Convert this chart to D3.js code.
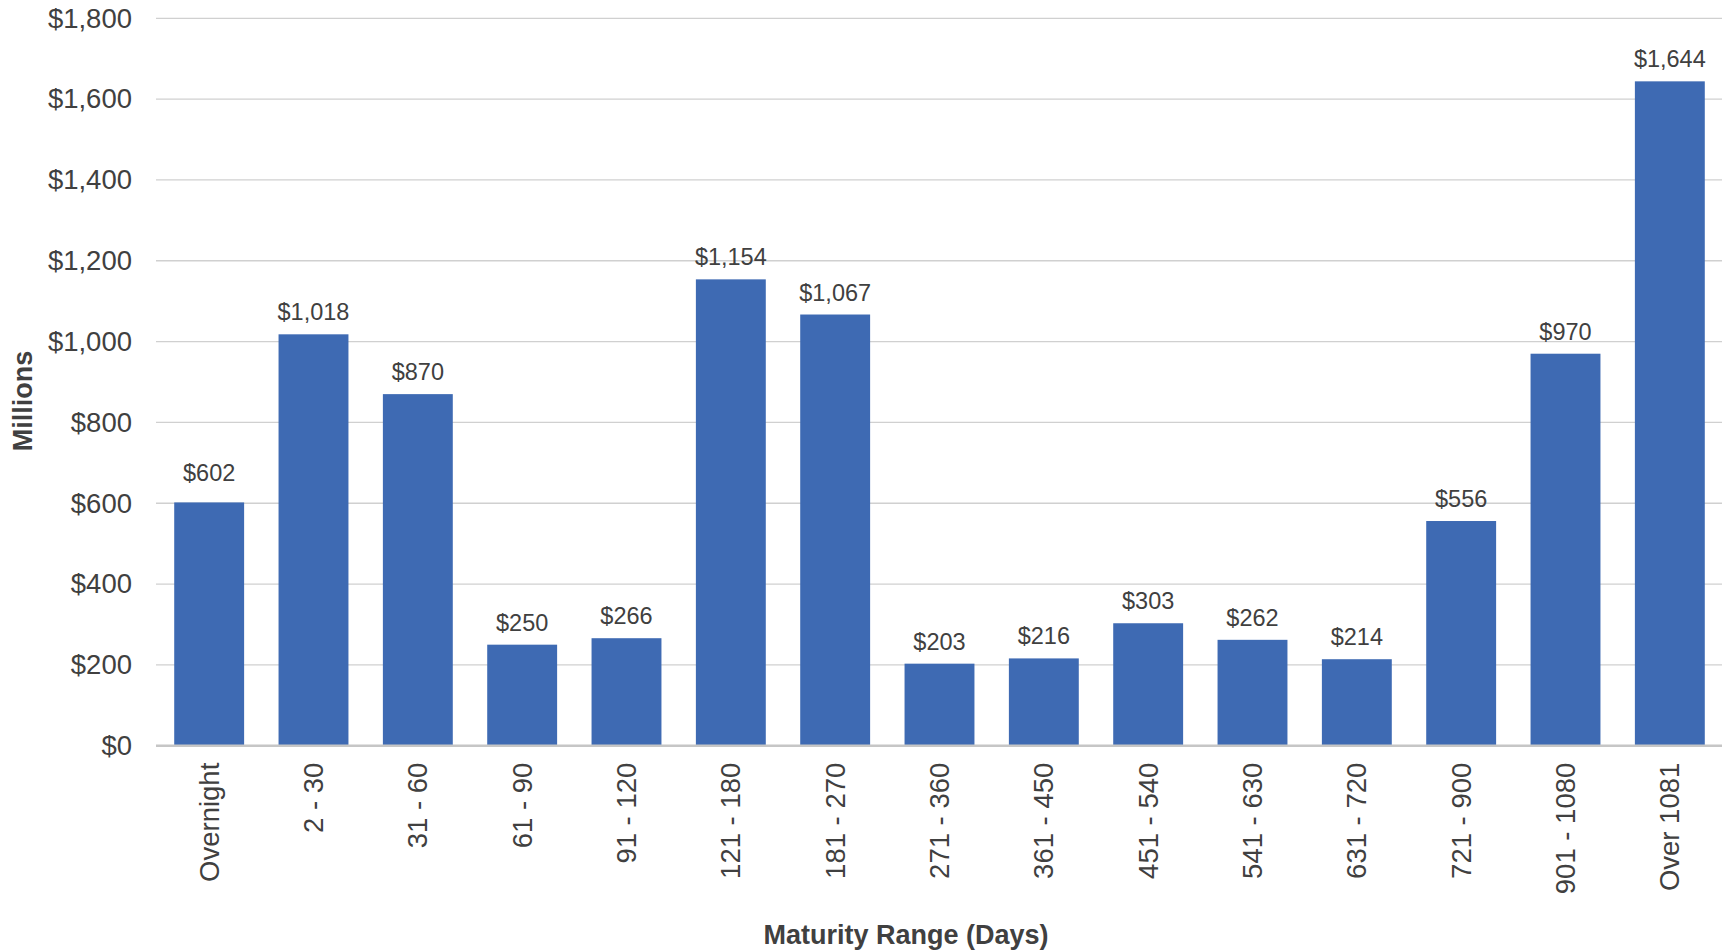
<!DOCTYPE html>
<html><head><meta charset="utf-8">
<script src="https://cdn.jsdelivr.net/npm/d3@7"></script>
<style>body{margin:0;background:#fff}svg{display:block}</style>
</head><body>
<svg id="c" width="1727" height="951"></svg>
<script>
const categories = ["Overnight","2 - 30","31 - 60","61 - 90","91 - 120","121 - 180","181 - 270","271 - 360","361 - 450","451 - 540","541 - 630","631 - 720","721 - 900","901 - 1080","Over 1081"];
const values = [602,1018,870,250,266,1154,1067,203,216,303,262,214,556,970,1644];
const yTicks = [0,200,400,600,800,1000,1200,1400,1600,1800];

const svg = d3.select("#c");
const font = "'Liberation Sans', Arial, sans-serif";
const m = {left:157, right:1722, top:18.3, bottom:745.7};
const x = d3.scaleBand().domain(categories).range([m.left, m.right]).paddingInner(0.33).paddingOuter(0.165);
const y = d3.scaleLinear().domain([0,1800]).range([m.bottom, m.top]);
const fmt = v => "$" + d3.format(",")(v);

// gridlines
svg.append("g").selectAll("line").data(yTicks.filter(d=>d>0)).join("line")
  .attr("x1", m.left-1).attr("x2", m.right).attr("y1", d=>y(d)).attr("y2", d=>y(d))
  .attr("stroke", "#d0d0d0").attr("stroke-width", 1.3);

// y axis labels
const yAxis = d3.axisLeft(y).tickValues(yTicks).tickFormat(fmt).tickSize(0).tickPadding(24);
const ga = svg.append("g").attr("transform", `translate(${m.left-1},0)`).call(yAxis);
ga.select(".domain").remove();
ga.selectAll("text").attr("font-family", font).attr("font-size", 27.5).attr("fill", "#404040");

// bars
svg.append("g").selectAll("rect").data(values).join("rect")
  .attr("x", (d,i)=>x(categories[i])).attr("width", x.bandwidth())
  .attr("y", d=>y(d)).attr("height", d=>y(0)-y(d))
  .attr("fill", "#3e6ab3");

// value labels
svg.append("g").selectAll("text").data(values).join("text")
  .attr("x", (d,i)=>x(categories[i]) + x.bandwidth()/2)
  .attr("y", (d,i)=>y(d) - (i===0 ? 21 : 14))
  .attr("text-anchor","middle").attr("font-family", font).attr("font-size", 23.5).attr("fill","#404040")
  .text(fmt);

// baseline
svg.append("line").attr("x1", m.left-1).attr("x2", m.right).attr("y1", y(0)).attr("y2", y(0))
  .attr("stroke", "#c6c6c6").attr("stroke-width", 2.5);

// x axis
const xAxis = d3.axisBottom(x).tickSize(0).tickPadding(0);
const gx = svg.append("g").attr("transform", `translate(0,${y(0)})`).call(xAxis);
gx.select(".domain").remove();
gx.selectAll("text").attr("font-family", font).attr("font-size", 27.5).attr("fill", "#404040")
  .attr("text-anchor","end").attr("transform","rotate(-90)")
  .attr("x", -17).attr("y", 0).attr("dy","0.35em");

// axis titles
svg.append("text").attr("x", 906).attr("y", 944).attr("text-anchor","middle")
  .attr("font-family", font).attr("font-weight","bold").attr("font-size", 27).attr("fill","#404040")
  .text("Maturity Range (Days)");
svg.append("text").attr("transform","translate(32,401) rotate(-90)").attr("text-anchor","middle")
  .attr("font-family", font).attr("font-weight","bold").attr("font-size", 27).attr("fill","#404040")
  .text("Millions");
</script>
</body></html>
